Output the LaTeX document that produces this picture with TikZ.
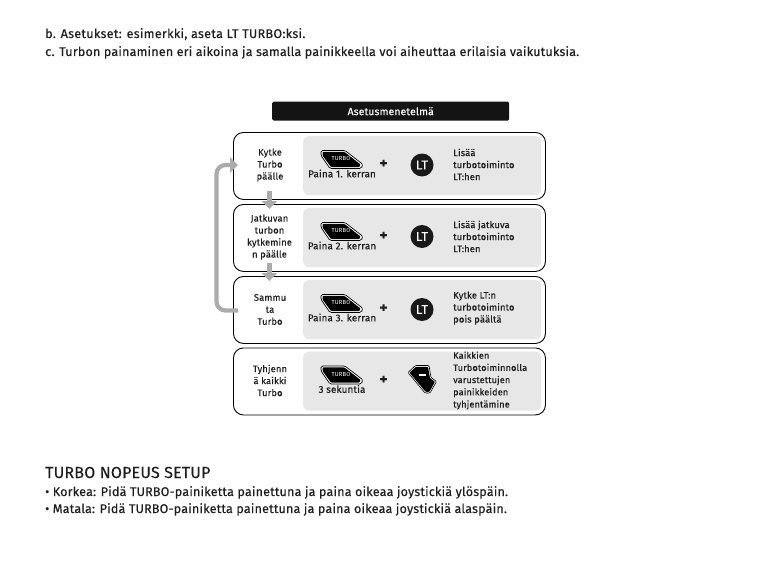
\documentclass[tikz,border=0pt]{standalone}
\usepackage{fontspec}
\setmainfont{Fira Sans}[LetterSpace=1.2,FakeBold=0.25]
\newfontfamily\labelfont{Fira Sans}[LetterSpace=3]
\newfontfamily\looseline{Fira Sans}[LetterSpace=2.2,FakeBold=0.25]
\usetikzlibrary{arrows.meta}
\definecolor{txt}{HTML}{1E1E1E}
\definecolor{panel}{HTML}{E7E7E7}
\definecolor{flow}{HTML}{ABABAB}
\tikzset{
  body/.style={anchor=base west,inner sep=0pt,text=txt,font=\fontsize{12.6}{14}\selectfont},
  outerbox/.style={draw=black,line width=0.9pt,rounded corners=10pt,fill=white,minimum width=312pt,minimum height=67pt,anchor=north west,inner sep=0pt},
  panelbox/.style={fill=panel,rounded corners=6pt,minimum width=238pt,minimum height=59pt,anchor=north west,inner sep=0pt},
  lefttxt/.style={align=center,inner sep=0pt,text=txt,font=\fontsize{9.4}{12}\selectfont},
  righttxt/.style={align=left,anchor=west,inner sep=0pt,text=txt,font=\fontsize{9.4}{12}\selectfont},
  presstxt/.style={inner sep=0pt,text=txt,font=\fontsize{9.9}{12}\selectfont},
  plus/.style={inner sep=0pt,text=txt,font=\fontsize{15}{15}\bfseries\selectfont},
  ltbtn/.style={circle,fill=black!90,text=white,minimum size=23pt,inner sep=0pt,font=\fontsize{13}{13}\selectfont},
  flowline/.style={draw=flow,line width=4.2pt,rounded corners=9pt},
  flowdown/.style={draw=flow,line width=5.5pt,-{Triangle[width=15pt,length=8pt]}},
  flowright/.style={draw=flow,line width=4.2pt,-{Triangle[width=15pt,length=8pt]}},
  pics/turbobtn/.style={code={
    \path[draw=black,line width=0.7pt,fill=white,rounded corners=1.5pt] (-21,-9)--(3,-9)--(21,5)--(19,9)--(-12,9)--(-21,-4)--cycle;
    \path[fill=black,rounded corners=1pt] (-19.5,-7.6)--(2.4,-7.6)--(18.6,5)--(17.6,7.6)--(-11,7.6)--(-19.5,-4)--cycle;
    \node[text=white,inner sep=0pt,font=\labelfont\fontsize{5.8}{6}\selectfont] at (-1,-1) {TURBO};
  }}
}
\begin{document}
\begin{tikzpicture}[x=1pt,y=-1pt]
\useasboundingbox (0,0) rectangle (765,567);
\node[body,font=\looseline\fontsize{12.6}{14}\selectfont] (l1) at (45,38) {b. Asetukset: esimerkki, aseta LT TURBO:ksi.};
\node[body] (l2) at (45,56) {c. Turbon painaminen eri aikoina ja samalla painikkeella voi aiheuttaa erilaisia vaikutuksia.};
\node[fill=black!92,rounded corners=1.5pt,minimum width=237pt,minimum height=19pt,anchor=north west,inner sep=0pt,text=white,font=\fontsize{10.4}{12}\selectfont] (head) at (272,101.5) {Asetusmenetelmä};

\node[outerbox] (r1) at (233,132) {};
\node[outerbox] (r2) at (233,204) {};
\node[outerbox] (r3) at (233,276) {};
\node[outerbox] (r4) at (233,347.5) {};
\node[panelbox] (p1) at (303,136) {};
\node[panelbox] (p2) at (303,208) {};
\node[panelbox] (p3) at (303,280) {};
\node[panelbox] (p4) at (303,351.5) {};

\node[lefttxt] (a1) at (270,165) {Kytke\\Turbo\\päälle};
\node[lefttxt] (a2) at (269.5,237) {Jatkuvan\\turbon\\kytkemine\\n päälle};
\node[lefttxt] (a3) at (270,309.5) {Sammu\\ta\\Turbo};
\node[lefttxt] (a4) at (270,380.5) {Tyhjenn\\ä kaikki\\Turbo};

\pic at (342,159.5) {turbobtn};
\pic at (342,231.5) {turbobtn};
\pic at (342,303.5) {turbobtn};
\pic at (342,375) {turbobtn};

\node[presstxt] (k1) at (342,173.5) {Paina 1. kerran};
\node[presstxt] (k2) at (342,245.5) {Paina 2. kerran};
\node[presstxt] (k3) at (342,317.5) {Paina 3. kerran};
\node[presstxt] (k4) at (342,389) {3 sekuntia};

\node[plus] (s1) at (383.5,164) {+};
\node[plus] (s2) at (383.5,236) {+};
\node[plus] (s3) at (383.5,308.5) {+};
\node[plus] (s4) at (383.5,380) {+};

\node[ltbtn] (b1) at (422,165) {LT};
\node[ltbtn] (b2) at (422,236.5) {LT};
\node[ltbtn] (b3) at (422,309.5) {LT};
\path[draw=black,line width=0.6pt,fill=white,rounded corners=1pt] (408,372.5)--(415.5,365.5)--(429,365.5)--(431,377.5)--(436.5,381.5)--(430,393)--(425,393)--cycle;
\path[fill=black,rounded corners=0.8pt] (409.5,372.7)--(416,366.8)--(428,366.8)--(430,378.2)--(435,381.8)--(429.4,391.8)--(425.6,391.8)--cycle;
\node[fill=white,minimum width=7pt,minimum height=2.4pt,inner sep=0pt] (minus) at (422,375) {};

\node[righttxt] (d1) at (453,164.5) {Lisää\\turbotoiminto\\LT:hen};
\node[righttxt] (d2) at (453,236.5) {Lisää jatkuva\\turbotoiminto\\LT:hen};
\node[righttxt] (d3) at (453,308) {Kytke LT:n\\turbotoiminto\\pois päältä};
\node[righttxt,font=\fontsize{9.2}{12.2}\selectfont] (d4) at (453,380.5) {Kaikkien\\Turbotoiminnolla\\varustettujen\\painikkeiden\\tyhjentämine};

\coordinate (ldn1) at (269.5,191);
\coordinate (ldn2) at (269.5,263);
\coordinate (ldn1e) at (269.5,209);
\coordinate (ldn2e) at (269.5,281);
\draw[flowdown] (ldn1) -- (ldn1e);
\draw[flowdown] (ldn2) -- (ldn2e);
\coordinate (loopS) at (238,310.5);
\coordinate (loopE) at (238,165);
\draw[flowline] (loopS) -- (216.5,310.5) -- (216.5,165) -- (229,165);
\draw[flowright] (226,165) -- (loopE);

\node[body,font=\fontsize{16}{18}\selectfont] (t) at (45,478) {TURBO NOPEUS SETUP};
\node[body] (m1) at (45,496) {• Korkea: Pidä TURBO-painiketta painettuna ja paina oikeaa joystickiä ylöspäin.};
\node[body] (m2) at (45,513) {• Matala: Pidä TURBO-painiketta painettuna ja paina oikeaa joystickiä alaspäin.};
\end{tikzpicture}
\end{document}
